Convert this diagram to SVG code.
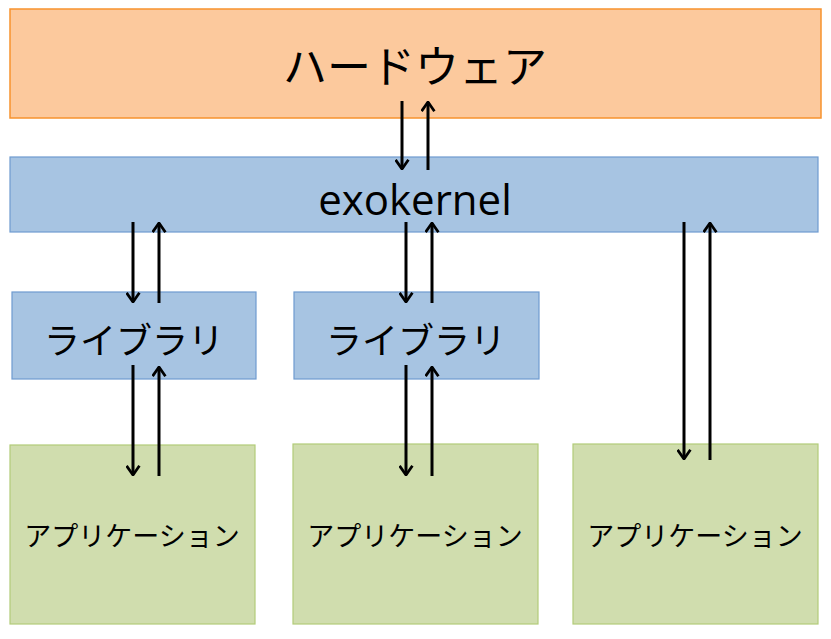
<svg xmlns="http://www.w3.org/2000/svg" width="831" height="639" viewBox="0 0 831 639">
<style>
.hw{fill:#FCC99D;stroke:#F7922E;stroke-width:1.5}
.bl{fill:#A7C4E2;stroke:#6E9BD0;stroke-width:1.2}
.gr{fill:#D0DDAE;stroke:#B2CC78;stroke-width:1.2}
.t{font-family:"Noto Sans CJK JP","Noto Sans",sans-serif;fill:#000;text-anchor:middle;font-weight:400}
.c line{stroke:#000;stroke-width:3;fill:none;marker-end:url(#ah)}
</style>
<defs>
<marker id="ah" viewBox="0 0 12 16" refX="11" refY="8" markerWidth="11" markerHeight="15" orient="auto" markerUnits="userSpaceOnUse">
<polyline points="1,1 11,8 1,15" fill="none" stroke="#000" stroke-width="3"/>
</marker>
</defs>
<rect width="831" height="639" fill="#fff"/>
<g id="hardware"><rect class="hw" x="10" y="9" width="811" height="109"/><text class="t" x="415" y="83" font-size="44">ハードウェア</text></g>
<g id="exokernel"><rect class="bl" x="10" y="157" width="808" height="75"/><text class="t" x="415" y="215" font-size="42" style="font-family:'Open Sans','Noto Sans',sans-serif">exokernel</text></g>
<g id="lib1"><rect class="bl" x="12" y="292" width="244" height="87"/><text class="t" x="134" y="354" font-size="36">ライブラリ</text></g>
<g id="lib2"><rect class="bl" x="294" y="292" width="245" height="87"/><text class="t" x="416" y="354" font-size="36">ライブラリ</text></g>
<g id="app1"><rect class="gr" x="10" y="445" width="245" height="179"/><text class="t" x="132" y="546" font-size="27">アプリケーション</text></g>
<g id="app2"><rect class="gr" x="293" y="444" width="245" height="180"/><text class="t" x="415" y="546" font-size="27">アプリケーション</text></g>
<g id="app3"><rect class="gr" x="573" y="444" width="245" height="180"/><text class="t" x="695" y="546" font-size="27">アプリケーション</text></g>
<g id="connectors" class="c">
<line x1="402" y1="101" x2="402" y2="169"/>
<line x1="428" y1="170" x2="428" y2="102"/>
<line x1="133" y1="222" x2="133" y2="302"/>
<line x1="159" y1="303" x2="159" y2="223"/>
<line x1="133" y1="365" x2="133" y2="475"/>
<line x1="159" y1="476" x2="159" y2="367"/>
<line x1="406" y1="222" x2="406" y2="302"/>
<line x1="432" y1="303" x2="432" y2="223"/>
<line x1="406" y1="365" x2="406" y2="475"/>
<line x1="432" y1="476" x2="432" y2="367"/>
<line x1="684" y1="222" x2="684" y2="459"/>
<line x1="710" y1="460" x2="710" y2="223"/>
</g>
</svg>
